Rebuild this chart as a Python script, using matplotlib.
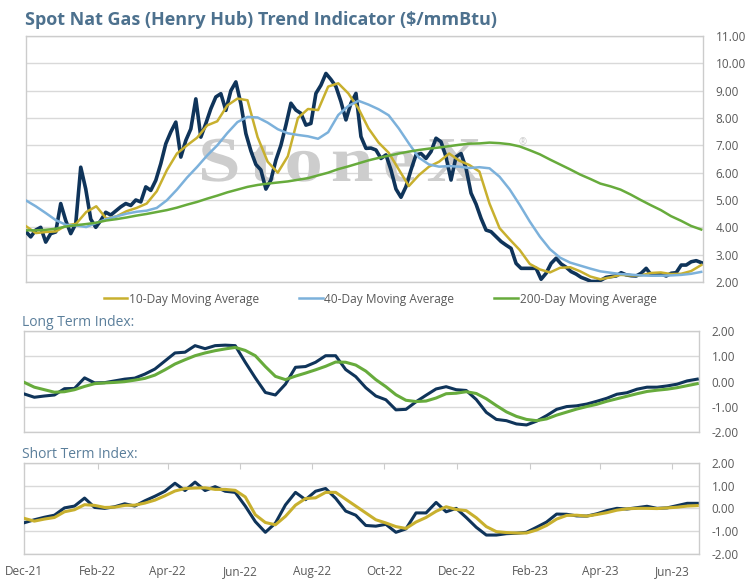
import matplotlib
matplotlib.use('Agg')
import matplotlib.pyplot as plt
import matplotlib.dates as mdates
from matplotlib.ticker import FormatStrFormatter
from matplotlib.textpath import TextPath
from matplotlib.patches import PathPatch
from matplotlib.font_manager import FontProperties
from matplotlib.transforms import Affine2D, IdentityTransform
import numpy as np
import pandas as pd

plt.rcParams['font.family'] = ['Open Sans', 'DejaVu Sans']

'''
    data read off the chart
'''
start = pd.Timestamp('2021-12-01')
end = pd.Timestamp('2023-06-22')
xend = pd.Timestamp('2023-06-23 12:00')

# spot price, about every 4 days
spot = [3.85, 3.65, 3.9, 4.0, 3.46, 3.77, 3.83, 4.87, 4.25, 3.77,
        4.13, 6.2, 5.4, 4.3, 4.0, 4.25, 4.55, 4.45, 4.6, 4.75,
        4.87, 4.8, 5.0, 4.93, 5.48, 5.35, 5.72, 6.33, 7.06, 7.49,
        7.85, 6.57, 7.18, 7.6, 8.7, 7.3, 7.8, 8.34, 8.77, 8.89,
        8.28, 9.0, 9.32, 8.52, 7.43, 6.8, 6.3, 6.1, 5.4, 5.73,
        6.46, 7.0, 7.74, 8.54, 8.29, 8.17, 7.74, 7.8, 8.9, 9.2,
        9.63, 9.41, 9.15, 8.6, 7.93, 8.54, 8.9, 7.32, 6.89, 6.9,
        6.83, 6.52, 6.65, 6.1, 5.4, 5.1, 5.49, 6.1, 6.65, 6.7,
        6.52, 6.77, 7.26, 7.13, 6.58, 5.73, 6.58, 6.7, 6.16, 5.25,
        4.85, 4.33, 3.9, 3.84, 3.66, 3.48, 3.35, 3.23, 2.68, 2.5,
        2.5, 2.5, 2.5, 2.1, 2.32, 2.68, 2.87, 2.66, 2.54, 2.38,
        2.29, 2.17, 2.1, 2.02, 2.02, 2.07, 2.17, 2.2, 2.22, 2.34,
        2.26, 2.23, 2.22, 2.32, 2.5, 2.26, 2.26, 2.29, 2.22, 2.32,
        2.34, 2.62, 2.62, 2.74, 2.78, 2.71]

# moving averages and indices, about every 8 days
ma10 = [4.05, 3.79, 3.83, 3.85, 4.07, 4.13, 4.56, 4.77, 4.32, 4.4,
        4.59, 4.71, 4.87, 5.32, 6.09, 6.7, 7.0, 7.28, 7.73, 7.88,
        8.46, 8.71, 8.65, 7.3, 6.4, 6.0, 6.6, 8.0, 8.33, 8.29,
        9.15, 9.27, 8.9, 8.35, 7.62, 7.1, 6.73, 6.12, 5.51, 5.91,
        6.22, 6.4, 6.7, 6.44, 6.28, 6.04, 4.87, 3.97, 3.56, 3.17,
        2.66, 2.46, 2.35, 2.52, 2.54, 2.39, 2.2, 2.1, 2.17, 2.26,
        2.24, 2.24, 2.33, 2.35, 2.29, 2.3, 2.4, 2.62]
ma40 = [4.99, 4.77, 4.52, 4.26, 4.09, 4.07, 4.01, 4.16, 4.3, 4.4,
        4.5, 4.57, 4.61, 4.71, 4.99, 5.38, 5.82, 6.21, 6.63, 7.0,
        7.45, 7.85, 8.04, 8.02, 7.83, 7.59, 7.44, 7.38, 7.33, 7.24,
        7.48, 8.11, 8.44, 8.63, 8.49, 8.32, 8.1, 7.62, 7.07, 6.55,
        6.3, 6.22, 6.24, 6.22, 6.17, 6.2, 6.16, 5.85, 5.39, 4.82,
        4.21, 3.66, 3.2, 2.89, 2.71, 2.6, 2.49, 2.39, 2.34, 2.29,
        2.27, 2.24, 2.23, 2.23, 2.24, 2.26, 2.3, 2.37]
ma200 = [3.89, 3.89, 3.91, 3.95, 4.03, 4.08, 4.12, 4.17, 4.25, 4.3,
         4.36, 4.43, 4.49, 4.56, 4.63, 4.72, 4.83, 4.93, 5.05, 5.16,
         5.28, 5.38, 5.48, 5.55, 5.6, 5.64, 5.68, 5.74, 5.8, 5.9,
         6.0, 6.13, 6.23, 6.34, 6.45, 6.54, 6.62, 6.7, 6.77, 6.83,
         6.88, 6.92, 6.97, 7.02, 7.06, 7.07, 7.1, 7.08, 7.04, 6.96,
         6.82, 6.67, 6.48, 6.3, 6.12, 5.93, 5.77, 5.6, 5.5, 5.38,
         5.2, 5.0, 4.81, 4.63, 4.41, 4.24, 4.05, 3.92]

long_idx = [-0.49, -0.62, -0.57, -0.53, -0.28, -0.27, 0.15, -0.05, -0.04, 0.03,
            0.1, 0.14, 0.3, 0.5, 0.82, 1.14, 1.17, 1.43, 1.31, 1.43,
            1.45, 1.43, 0.77, 0.15, -0.43, -0.53, -0.1, 0.57, 0.6, 0.77,
            1.03, 1.03, 0.48, 0.2, -0.24, -0.57, -0.72, -1.12, -1.1, -0.8,
            -0.54, -0.29, -0.2, -0.32, -0.35, -0.71, -1.22, -1.5, -1.55, -1.68,
            -1.72, -1.57, -1.35, -1.1, -0.99, -0.96, -0.89, -0.78, -0.66, -0.5,
            -0.44, -0.3, -0.22, -0.22, -0.17, -0.1, 0.03, 0.1]
long_sig = [-0.03, -0.22, -0.32, -0.42, -0.4, -0.32, -0.19, -0.08, -0.05, -0.03,
            0.0, 0.06, 0.13, 0.26, 0.47, 0.7, 0.87, 1.03, 1.14, 1.23,
            1.3, 1.36, 1.24, 1.03, 0.6, 0.21, 0.08, 0.22, 0.34, 0.47,
            0.61, 0.78, 0.77, 0.66, 0.42, 0.08, -0.2, -0.52, -0.74, -0.79,
            -0.77, -0.65, -0.48, -0.46, -0.4, -0.47, -0.68, -0.95, -1.2, -1.38,
            -1.5, -1.55, -1.48, -1.33, -1.21, -1.09, -0.99, -0.9, -0.78, -0.68,
            -0.58, -0.48, -0.39, -0.34, -0.3, -0.24, -0.16, -0.08]

short_idx = [-0.63, -0.5, -0.39, -0.3, 0.02, 0.1, 0.45, 0.04, 0.0, 0.07,
             0.2, 0.1, 0.33, 0.53, 0.75, 1.1, 0.78, 1.15, 0.78, 0.95,
             0.75, 0.7, 0.1, -0.58, -1.05, -0.65, 0.15, 0.7, 0.38, 0.75,
             0.87, 0.44, -0.12, -0.3, -0.75, -0.78, -0.7, -1.05, -0.9, -0.2,
             -0.2, 0.26, -0.15, 0.0, -0.4, -0.83, -1.17, -1.17, -1.11, -1.09,
             -1.05, -0.83, -0.6, -0.25, -0.26, -0.33, -0.34, -0.24, -0.1, 0.0,
             -0.03, 0.03, 0.09, 0.0, 0.02, 0.12, 0.22, 0.22]
short_sig = [-0.44, -0.56, -0.47, -0.4, -0.15, -0.06, 0.16, 0.13, 0.04, 0.05,
             0.13, 0.14, 0.23, 0.36, 0.55, 0.76, 0.87, 0.89, 0.9, 0.83,
             0.83, 0.79, 0.5, -0.28, -0.62, -0.72, -0.35, 0.14, 0.43, 0.46,
             0.7, 0.7, 0.4, 0.1, -0.2, -0.5, -0.64, -0.8, -0.88, -0.6,
             -0.4, -0.13, 0.07, -0.05, -0.1, -0.41, -0.8, -1.02, -1.06, -1.08,
             -1.08, -0.95, -0.75, -0.47, -0.31, -0.3, -0.34, -0.27, -0.19, -0.08,
             -0.02, 0.0, 0.0, -0.01, 0.02, 0.05, 0.1, 0.12]

spot_dates = pd.date_range(start, end, periods=len(spot))
ma_dates = pd.date_range(start, end, periods=len(ma10))

navy = '#0f345a'
gold = '#c8b02e'
lblue = '#7cb1db'
green = '#67ab3c'
grey = '#595959'

'''
    figure
'''
fig = plt.figure(figsize=(7.55, 5.82), dpi=100)
ax1 = fig.add_axes([25.7/755, 300/582, 677.3/755, 246/582])
ax2 = fig.add_axes([24.3/755, 150/582, 674.7/755, 100.7/582])
ax3 = fig.add_axes([24.3/755, 28/582, 674.7/755, 91.3/582])

def style(ax, ylo, yhi):
    ax.set_xlim(start, xend)
    ax.set_ylim(ylo, yhi)
    ax.set_yticks(np.arange(ylo, yhi + 0.001, 1.0))
    ax.yaxis.set_major_formatter(FormatStrFormatter('%.2f'))
    ax.yaxis.tick_right()
    ax.tick_params(axis='y', length=0, pad=9, labelsize=8.5, labelcolor=grey)
    ax.grid(axis='y', color='#d9d9d9', lw=1)
    ax.set_axisbelow(True)
    for s in ax.spines.values():
        s.set_color('#cccccc')
        s.set_linewidth(1)
    ax.xaxis.set_major_locator(mdates.MonthLocator(bymonth=(2, 4, 6, 8, 10, 12)))
    ax.xaxis.set_major_formatter(mdates.DateFormatter('%b-%y'))
    ax.tick_params(axis='x', length=0, labelbottom=False)

# top: price and moving averages
ax1.plot(spot_dates, spot, color=navy, lw=2.6, solid_joinstyle='round', zorder=3)
l10, = ax1.plot(ma_dates, ma10, color=gold, lw=1.8, zorder=4)
l40, = ax1.plot(ma_dates, ma40, color=lblue, lw=1.8, zorder=4)
l200, = ax1.plot(ma_dates, ma200, color=green, lw=1.8, zorder=4)
style(ax1, 2, 11)

# long term index
ax2.plot(ma_dates, long_idx, color=navy, lw=2.2, zorder=3)
ax2.plot(ma_dates, long_sig, color=green, lw=2.2, zorder=4)
style(ax2, -2, 2)

# short term index
ax3.plot(ma_dates, short_idx, color=navy, lw=2.2, zorder=3)
ax3.plot(ma_dates, short_sig, color=gold, lw=2.2, zorder=4)
style(ax3, -2, 2)
ax3.tick_params(axis='x', bottom=False, top=True, direction='in', length=4,
                color='#cccccc', labelbottom=True, labelsize=8.5,
                labelcolor=grey, pad=8)

# watermark
fp = FontProperties(family='Liberation Serif', weight='bold')
cur = 202.0
for ch in 'StoneX':
    tp = TextPath((0, 0), ch, size=64, prop=fp)
    ext = tp.get_extents()
    tr = Affine2D().scale(1.2, 1.0).translate(cur - ext.x0 * 1.2, 582 - 181)
    p = PathPatch(tr.transform_path(tp), facecolor='#cdcdcd', edgecolor='none',
                  transform=IdentityTransform(), zorder=2)
    ax1.add_artist(p)
    cur += ext.width * 1.2 + 13
ax1.text(523/755, 1 - 143/582, '®', transform=fig.transFigure, fontsize=7,
         color='#cdcdcd', ha='center', va='center', zorder=2)

fig.legend([l10, l40, l200],
           ['10-Day Moving Average', '40-Day Moving Average', '200-Day Moving Average'],
           loc='center', bbox_to_anchor=(380/755, 1 - 299/582), ncol=3, frameon=False,
           fontsize=8.6, handlelength=2.0, columnspacing=3.3, handletextpad=0.15,
           labelcolor=grey)

fig.text(25/755, 1 - 20/582, 'Spot Nat Gas (Henry Hub) Trend Indicator ($/mmBtu)',
         fontsize=13, fontweight='bold', color='#4d718e', va='center', ha='left')
fig.text(22/755, 1 - 322/582, 'Long Term Index:', fontsize=10, color='#5b7f9b',
         va='center', ha='left')
fig.text(22/755, 1 - 454/582, 'Short Term Index:', fontsize=10, color='#5b7f9b',
         va='center', ha='left')

fig.savefig('out.png', dpi=100)
